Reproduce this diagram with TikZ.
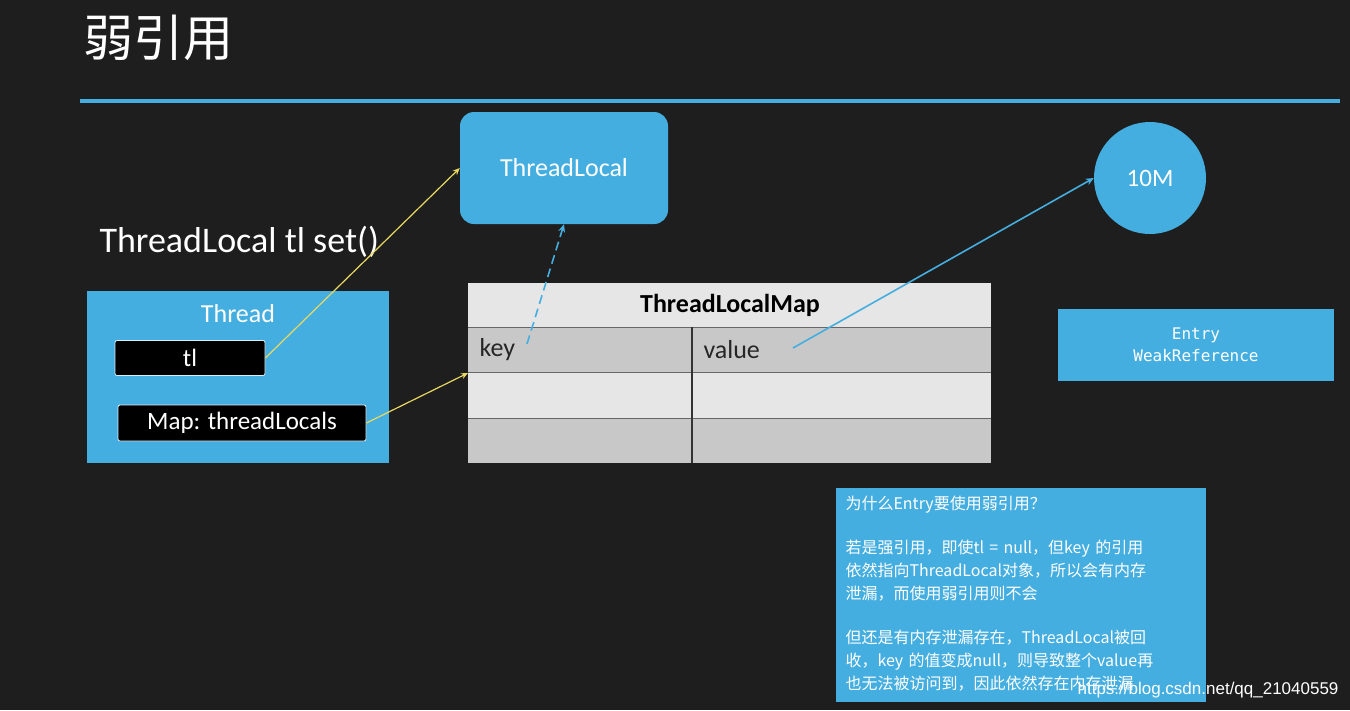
\documentclass[tikz,border=0pt]{standalone}
\usepackage{fontspec}
\setmainfont{Carlito}
\newfontfamily\cjk{Noto Sans CJK SC}
\newfontfamily\mono{DejaVu Sans Mono}
\newfontfamily\wmfont{Liberation Sans}
\usetikzlibrary{arrows.meta}
\definecolor{bg}{HTML}{1E1E1E}
\definecolor{sky}{HTML}{45AEE0}
\definecolor{lg}{HTML}{E6E6E6}
\definecolor{dg}{HTML}{C8C8C8}
\definecolor{yel}{HTML}{E8D860}
\begin{document}
\begin{tikzpicture}[x=1pt,y=-1pt,
  bluebox/.style={fill=sky,draw=none},
  blk/.style={fill=black,draw=white!80!sky,rounded corners=2pt,line width=0.8pt,text=white,font=\fontsize{25}{28}\selectfont},
  yarr/.style={draw=yel,line width=1.2pt,-{Stealth[length=7pt,width=6pt]}},
  barr/.style={draw=sky,line width=1.6pt,-{Stealth[length=8pt,width=7pt]}},
  cell/.style={draw=black!60,line width=1pt}]
\fill[bg] (0,0) rectangle (1350,710);
\node[anchor=west,text=white,font=\cjk\fontsize{50}{56}\selectfont] (title) at (80,38) {弱引用};
\draw[sky,line width=4pt] (80,101) -- (1340,101);
\node[bluebox,rounded corners=14pt,minimum width=208pt,minimum height=112pt,text=white,font=\fontsize{26}{30}\selectfont] (tlocal) at (564,168) {ThreadLocal};
\node[bluebox,circle,minimum size=112pt,text=white,font=\fontsize{25}{30}\selectfont] (tenm) at (1150,178) {10M};
\node[anchor=west,text=white,font=\fontsize{36}{40}\selectfont] (set) at (96,242) {ThreadLocal tl set()};
\node[bluebox,minimum width=302pt,minimum height=172pt] (thread) at (238,377) {};
\node[text=white,font=\fontsize{26}{30}\selectfont] (tlab) at (238,314) {Thread};
\node[blk,minimum width=150pt,minimum height=35pt] (tl) at (190,358) {tl};
\node[blk,minimum width=248pt,minimum height=36pt] (map) at (242,423) {Map: threadLocals};
% table
\fill[lg] (468,283) rectangle (991,327);
\fill[dg] (468,327) rectangle (991,372);
\fill[lg] (468,372) rectangle (991,418);
\fill[dg] (468,418) rectangle (991,463);
\draw[cell] (468,327) -- (991,327) (468,372) -- (991,372) (468,418) -- (991,418);
\draw[line width=1.5pt,black!80] (692,327) -- (692,463);
\node[font=\bfseries\fontsize{26}{30}\selectfont] (hdr) at (730,305) {ThreadLocalMap};
\node[anchor=west,font=\fontsize{26}{30}\selectfont,text=black!85] (key) at (476,350) {key};
\node[anchor=west,font=\fontsize{26}{30}\selectfont,text=black!85] (val) at (700,350) {value};
\coordinate (row1) at (468,373);
\coordinate (keyend) at (527,344);
\coordinate (valstart) at (793,348);
\node[bluebox,minimum width=276pt,minimum height=72pt,text=white,font=\mono\fontsize{16}{22}\selectfont,align=center] (entry) at (1196,345) {Entry\\WeakReference};
\node[bluebox,minimum width=370pt,minimum height=214pt] (note) at (1021,595) {};
\node[anchor=north west,text=white,font=\cjk\fontsize{16}{23}\selectfont,align=left,text width=360pt] (notetxt) at (842,492) {为什么Entry要使用弱引用？\\[21pt]若是强引用，即使tl = null，但key 的引用\\依然指向ThreadLocal对象，所以会有内存\\泄漏，而使用弱引用则不会\\[21pt]但还是有内存泄漏存在，ThreadLocal被回\\收，key 的值变成null，则导致整个value再\\也无法被访问到，因此依然存在内存泄漏};
\node[anchor=east,text=white!85,font=\wmfont\fontsize{17}{20}\selectfont] (wm) at (1342,690) {https://blog.csdn.net/qq\_21040559};
% arrows
\draw[yarr] (tl.east) -- (tlocal.west);
\draw[yarr] (map.east) -- (row1);
\draw[barr,dash pattern=on 9pt off 5pt] (keyend) -- (tlocal.south);
\draw[barr] (valstart) -- (tenm.west);
\end{tikzpicture}
\end{document}
